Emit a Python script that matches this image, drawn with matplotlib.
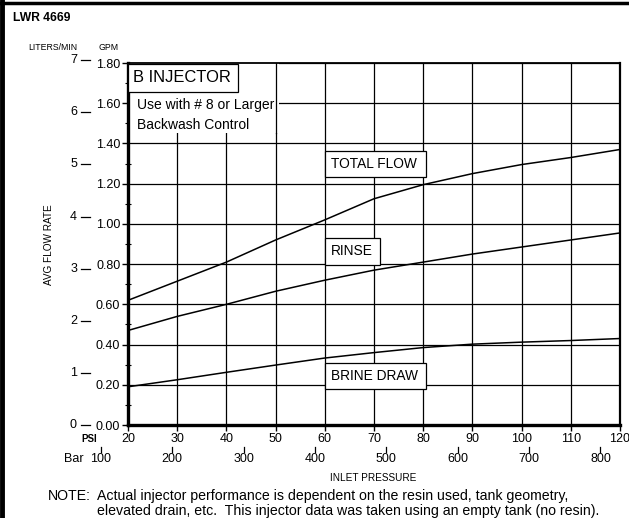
import matplotlib
matplotlib.use("Agg")
import matplotlib.pyplot as plt
import matplotlib.transforms as mtransforms
from matplotlib.patches import Rectangle
from matplotlib.lines import Line2D

plt.rcParams['font.family'] = ['Liberation Sans', 'DejaVu Sans']

# ---- data ----
psi = [20, 30, 40, 50, 60, 70, 80, 90, 100, 110, 120]
total_flow = [0.62, 0.715, 0.81, 0.92, 1.02, 1.125, 1.195, 1.25, 1.295, 1.33, 1.37]
rinse = [0.47, 0.54, 0.60, 0.665, 0.72, 0.77, 0.81, 0.85, 0.885, 0.92, 0.955]
brine_draw = [0.19, 0.225, 0.262, 0.298, 0.333, 0.36, 0.385, 0.402, 0.412, 0.42, 0.43]

gpm_ticks = [0.0, 0.2, 0.4, 0.6, 0.8, 1.0, 1.2, 1.4, 1.6, 1.8]
lpm_ticks = [0, 1, 2, 3, 4, 5, 6, 7]
psi_ticks = [20, 30, 40, 50, 60, 70, 80, 90, 100, 110, 120]
kpa_ticks = [100, 200, 300, 400, 500, 600, 700, 800]
LPM_PER_GPM = 3.86
KPA_PER_PSI = 6.895

W, H = 629, 518
fig = plt.figure(figsize=(W / 100, H / 100), dpi=100)

def fx(px):
    return px / W

def fy(py):
    return 1 - py / H

AX_L, AX_R, AX_T, AX_B = 128, 620, 63, 425
ax = fig.add_axes([fx(AX_L), fy(AX_B), fx(AX_R) - fx(AX_L), fy(AX_T) - fy(AX_B)])
ax.set_xlim(20, 120)
ax.set_ylim(0, 1.8)

def axx(px):  # pixel x -> axes fraction
    return (px - AX_L) / (AX_R - AX_L)

def axy(py):  # pixel y -> axes fraction
    return (AX_B - py) / (AX_B - AX_T)

ax.set_xticks(psi_ticks)
ax.set_xticklabels([str(v) for v in psi_ticks])
ax.set_yticks(gpm_ticks)
ax.set_yticklabels([f"{v:.2f}" for v in gpm_ticks])
ax.set_yticks([v + 0.1 for v in gpm_ticks[:-1]], minor=True)

ax.grid(True, which='major', color='black', lw=0.9, zorder=1)
ax.set_axisbelow(True)

ax.tick_params(axis='both', which='major', direction='out', length=4, width=1,
               labelsize=9, pad=1.5, colors='black')
ax.tick_params(axis='y', which='minor', direction='inout', length=5, width=0.8)
ax.spines['left'].set_linewidth(2.4)
ax.spines['bottom'].set_linewidth(2.4)
ax.spines['top'].set_linewidth(1.3)
ax.spines['right'].set_linewidth(1.6)

# curves
for vals in (total_flow, rinse, brine_draw):
    ax.plot(psi, vals, color='black', lw=1.1, zorder=4, clip_on=False)

# white area behind header text
ax.add_patch(Rectangle((20, 1.452), 30.6, 0.348, facecolor='white',
                       edgecolor='none', zorder=2))
ax.plot([50, 50], [1.452, 1.8], color='black', lw=0.9, zorder=2.5)
ax.add_patch(Rectangle((20.1, 1.656), 22.3, 0.14, facecolor='white',
                       edgecolor='black', lw=0.9, zorder=3))
ax.text(21.0, 1.727, "B INJECTOR", fontsize=11.9, va='center', ha='left', zorder=5)
ax.text(21.8, 1.592, "Use with # 8 or Larger", fontsize=10, va='center', ha='left', zorder=5)
ax.text(21.8, 1.49, "Backwash Control", fontsize=10, va='center', ha='left', zorder=5)

# curve label boxes
boxes = [("TOTAL FLOW", 60, 1.233, 20.6, 0.129),
         ("RINSE", 60, 0.796, 11.3, 0.134),
         ("BRINE DRAW", 60, 0.18, 20.6, 0.128)]
for label, x0, y0, w, h in boxes:
    ax.add_patch(Rectangle((x0, y0), w, h, facecolor='white', edgecolor='black',
                           lw=0.9, zorder=3))
    ax.text(x0 + 1.2, y0 + h / 2, label, fontsize=9.9, va='center', ha='left', zorder=5)

# liters/min scale (drawn against the GPM data scale)
ty = mtransforms.blended_transform_factory(ax.transAxes, ax.transData)
for l in lpm_ticks:
    g = l / LPM_PER_GPM
    ax.plot([axx(81), axx(90)], [g, g], color='black', lw=0.9,
            transform=ty, clip_on=False)
    ax.text(axx(77), g, str(l), fontsize=9, ha='right', va='center',
            transform=ty, clip_on=False)

# kPa ("Bar") scale drawn against the PSI data scale
tx = mtransforms.blended_transform_factory(ax.transData, ax.transAxes)
for k in kpa_ticks:
    p = k / KPA_PER_PSI
    ax.plot([p, p], [axy(447), axy(452)], color='black', lw=0.9,
            transform=tx, clip_on=False)
    ax.text(p, axy(459), str(k), fontsize=9, ha='center', va='center',
            transform=tx, clip_on=False)

# texts
fig.text(fx(13), fy(18), "LWR 4669", fontsize=8.7, fontweight='bold', va='center', ha='left')
fig.text(fx(53), fy(47), "LITERS/MIN", fontsize=6.3, va='center', ha='center')
fig.text(fx(109), fy(47), "GPM", fontsize=6.3, va='center', ha='center')
fig.text(fx(49), fy(245), "AVG FLOW RATE", fontsize=7.2, rotation=90, va='center', ha='center')
fig.text(fx(89), fy(439), "PSI", fontsize=7, fontweight='bold', va='center', ha='center')
fig.text(fx(74), fy(459), "Bar", fontsize=9, va='center', ha='center')
fig.text(fx(373), fy(478), "INLET PRESSURE", fontsize=7.2, va='center', ha='center')
fig.text(fx(48), fy(496), "NOTE:", fontsize=10.2, va='center', ha='left')
fig.text(fx(97), fy(496), "Actual injector performance is dependent on the resin used, tank geometry,",
         fontsize=10.2, va='center', ha='left')
fig.text(fx(97), fy(511), "elevated drain, etc.  This injector data was taken using an empty tank (no resin).",
         fontsize=10.2, va='center', ha='left')

# page frame
fig.add_artist(Line2D([fx(2), fx(2)], [0, 1], color='black', lw=3.5))
fig.add_artist(Line2D([0, 1], [fy(3), fy(3)], color='black', lw=2.5))

fig.savefig("out.png", dpi=100)
